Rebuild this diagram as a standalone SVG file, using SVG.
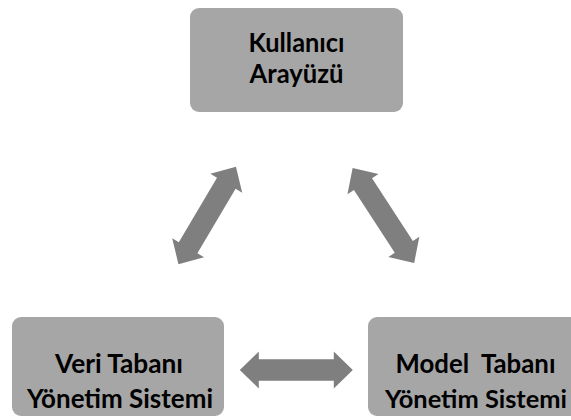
<svg xmlns="http://www.w3.org/2000/svg" width="571" height="420" viewBox="0 0 571 420">
  <style>
    .box { fill: #a6a6a6; }
    .label { font-family: Lato, "Open Sans", "Liberation Sans", sans-serif; font-weight: bold; font-size: 26.5px; fill: #000; text-anchor: middle; }
    .tight { font-size: 25.5px; }
    .arrow { fill: #7f7f7f; }
  </style>
  <defs>
    <!-- double-headed block arrow, centred on the origin, pointing along x -->
    <path id="dbl-arrow" class="arrow" d="M -56.5 0 L -37.5 -18.5 L -37.5 -10.8 L 37.5 -10.8 L 37.5 -18.5 L 56.5 0 L 37.5 18.5 L 37.5 10.8 L -37.5 10.8 L -37.5 18.5 Z"/>
  </defs>
  <rect width="571" height="420" fill="#ffffff"/>

  <g id="connectors">
    <use href="#dbl-arrow" transform="translate(207.2 215.5) rotate(-59.4)"/>
    <use href="#dbl-arrow" transform="translate(383.4 215.5) rotate(57)"/>
    <use href="#dbl-arrow" transform="translate(296.3 370)"/>
  </g>

  <g id="kullanici-arayuzu">
    <rect class="box" x="190" y="8" width="213" height="104" rx="9"/>
    <text class="label" x="296.5" y="52" textLength="96" lengthAdjust="spacingAndGlyphs">Kullanıcı</text>
    <text class="label" x="296.5" y="83" textLength="94" lengthAdjust="spacingAndGlyphs">Arayüzü</text>
  </g>

  <g id="veri-tabani">
    <rect class="box" x="12" y="317" width="212" height="99" rx="9"/>
    <text class="label" x="119" y="373" textLength="128" lengthAdjust="spacingAndGlyphs">Veri Tabanı</text>
    <text class="label" x="120" y="408" textLength="186" lengthAdjust="spacingAndGlyphs">Yönetim Sistemi</text>
  </g>

  <g id="model-tabani">
    <rect class="box" x="368" y="317" width="216" height="99" rx="9"/>
    <text class="label" x="475.5" y="373" textLength="160" lengthAdjust="spacingAndGlyphs" xml:space="preserve">Model  Tabanı</text>
    <text class="label tight" x="476" y="408" textLength="182" lengthAdjust="spacingAndGlyphs">Yönetim Sistemi</text>
  </g>
</svg>
